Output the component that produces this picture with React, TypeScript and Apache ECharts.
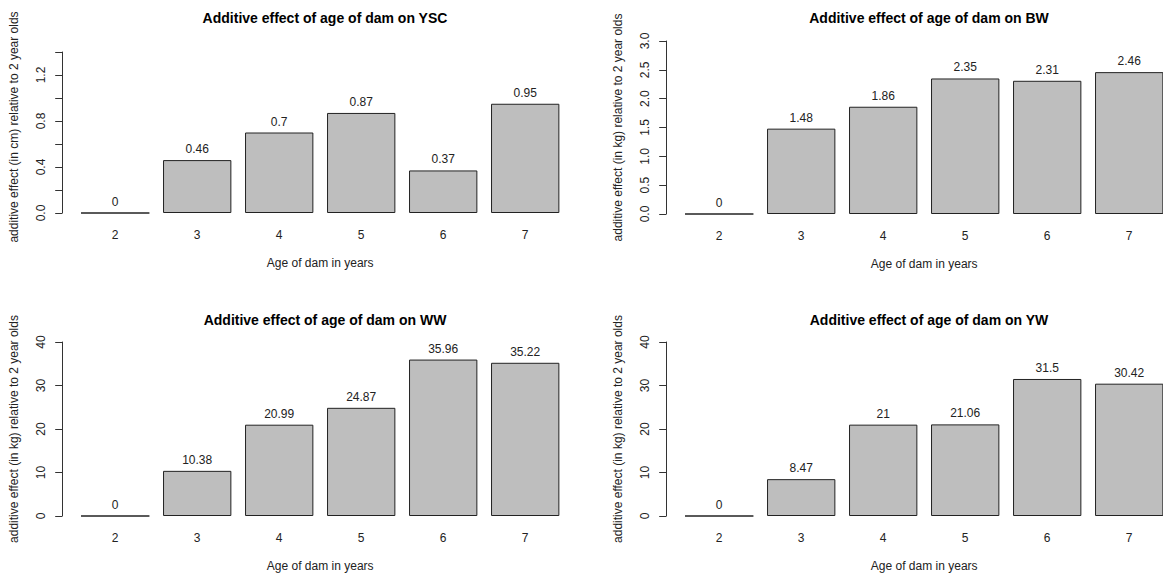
import React, { useEffect, useRef } from "react";
import * as echarts from "echarts";

// Age of dam (years) on the category axis
const ages = ["2", "3", "4", "5", "6", "7"];

// Additive effects relative to 2-year-old dams
const yscEffect = [0, 0.46, 0.7, 0.87, 0.37, 0.95];
const bwEffect = [0, 1.48, 1.86, 2.35, 2.31, 2.46];
const wwEffect = [0, 10.38, 20.99, 24.87, 35.96, 35.22];
const ywEffect = [0, 8.47, 21, 21.06, 31.5, 30.42];

const panelTitles = [
  "Additive effect of age of dam on YSC",
  "Additive effect of age of dam on BW",
  "Additive effect of age of dam on WW",
  "Additive effect of age of dam on YW",
];
const yNames = [
  "additive effect (in cm) relative to 2 year olds",
  "additive effect (in kg) relative to 2 year olds",
  "additive effect (in kg) relative to 2 year olds",
  "additive effect (in kg) relative to 2 year olds",
];
const xName = "Age of dam in years";

// y scales: [min, max, interval]
const yScales = [
  [0, 1.4, 0.2],
  [0, 3, 0.5],
  [0, 40, 10],
  [0, 40, 10],
];

const FONT = "'Liberation Sans', Arial, Helvetica, sans-serif";
const INK = "#222";

export default function App() {
  const ref = useRef<HTMLDivElement>(null);

  useEffect(() => {
    if (!ref.current) return;
    const chart = echarts.init(ref.current, undefined, { renderer: "svg" });

    const panels = [
      { left: 74.2, top: 52, height: 161, cx: 320, titleTop: 6, namePad: [0, 0, 0, 11], data: yscEffect },
      { left: 678.2, top: 41, height: 173, cx: 924, titleTop: 6, namePad: 0, data: bwEffect },
      { left: 74.2, top: 342, height: 174, cx: 320, titleTop: 308, namePad: 0, data: wwEffect },
      { left: 678.2, top: 342, height: 174, cx: 924, titleTop: 308, namePad: 0, data: ywEffect },
    ];

    const labelFormatters = [
      (v: number) => (Math.round(v * 10) % 4 === 0 ? v.toFixed(1) : ""),
      (v: number) => v.toFixed(1),
      (v: number) => String(v),
      (v: number) => String(v),
    ];

    const option: any = {
      animation: false,
      backgroundColor: "#ffffff",
      textStyle: { fontFamily: FONT },
      title: panels.map((p, i) => ({
        text: panelTitles[i],
        left: p.cx,
        top: p.titleTop,
        textAlign: "center",
        textStyle: { fontFamily: FONT, fontSize: 14, fontWeight: "bold", color: "#000" },
      })),
      grid: panels.map((p) => ({
        left: p.left,
        top: p.top,
        width: 492,
        height: p.height,
        containLabel: false,
        outerBoundsMode: "none",
      })),
      xAxis: panels.map((_, i) => ({
        type: "category",
        gridIndex: i,
        data: ages,
        axisLine: { show: false },
        axisTick: { show: false },
        axisLabel: { margin: 16, fontSize: 12, color: INK, fontFamily: FONT },
        name: xName,
        nameLocation: "middle",
        nameGap: 44,
        nameTextStyle: { fontSize: 12, color: INK, fontFamily: FONT },
      })),
      yAxis: panels.map((p, i) => ({
        type: "value",
        gridIndex: i,
        min: yScales[i][0],
        max: yScales[i][1],
        interval: yScales[i][2],
        offset: 12,
        splitLine: { show: false },
        axisLine: { show: true, lineStyle: { color: "#333", width: 1 } },
        axisTick: { show: true, inside: false, length: 7, lineStyle: { color: "#333", width: 1 } },
        axisLabel: {
          rotate: 90,
          margin: 15,
          fontSize: 12,
          color: INK,
          fontFamily: FONT,
          formatter: labelFormatters[i],
        },
        name: yNames[i],
        nameLocation: "middle",
        nameRotate: 90,
        nameGap: 42,
        nameTextStyle: { fontSize: 12, color: INK, fontFamily: FONT, padding: p.namePad },
      })),
      series: panels.map((p, i) => ({
        type: "bar",
        xAxisIndex: i,
        yAxisIndex: i,
        data: p.data,
        barWidth: "83.33%",
        itemStyle: { color: "#bebebe", borderColor: "#222", borderWidth: 1 },
        label: {
          show: true,
          position: "top",
          distance: 5,
          fontSize: 12,
          color: INK,
          fontFamily: FONT,
          formatter: (d: any) => String(d.value),
        },
      })),
    };

    chart.setOption(option);
    return () => chart.dispose();
  }, []);

  return (
    <div
      ref={ref}
      style={{ position: "fixed", left: 0, top: 0, width: 1163, height: 578, background: "#fff" }}
    />
  );
}
